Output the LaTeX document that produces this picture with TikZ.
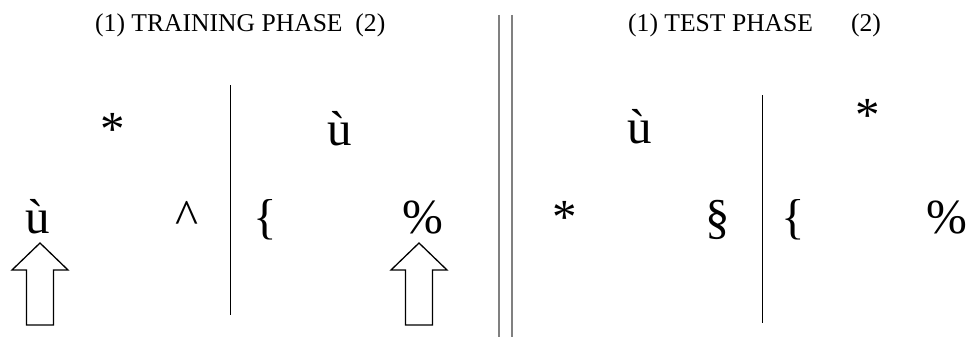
\documentclass[tikz,border=0pt]{standalone}
\usepackage{fontspec}
\setmainfont{Liberation Serif}

\begin{document}
\begin{tikzpicture}[x=1pt, y=-1pt, sym/.style = {anchor=base, inner sep=0pt, font=\fontsize{49}{49}\selectfont}, title/.style = {anchor=base west, inner sep=0pt, font=\fontsize{25.6}{25.6}\selectfont}, divider/.style = {line width=1pt}, hollowarrow/.style = {draw, line width=1.3pt, fill=white}]

    \useasboundingbox (0,0) rectangle (973,337);

    % 1. Titles of both phases
    \node[title] (trainTitle) at (95,32) {(1) TRAINING PHASE\ \ (2)};
    \node[title] (testTitle) at (628,32) {(1) TEST PHASE\hspace{38pt}(2)};

    % 2. Separating lines
    \draw[divider] (230,85) -- (230,315);
    \draw[divider] (762,95) -- (762,323);
    \draw[gray, line width=1.3pt] (499,15) -- (499,337);
    \draw[gray, line width=1.3pt] (512,15) -- (512,337);

    % 3. Training phase symbols
    \node[sym] (trainStar) at (113,145) {*};
    \node[sym] (trainUTop) at (340,145) {ù};
    \node[sym] (trainU) at (38,233) {ù};
    \node[sym] (trainCaret) at (187,233) {\textasciicircum};
    \node[sym] (trainBrace) at (265,233) {\{};
    \node[sym] (trainPct) at (423,233) {\%};

    % 4. Test phase symbols
    \node[sym] (testUTop) at (640,143) {ù};
    \node[sym] (testStarTop) at (868,131) {*};
    \node[sym] (testStar) at (565,233) {*};
    \node[sym] (testSect) at (718,233) {\S};
    \node[sym] (testBrace) at (793,233) {\{};
    \node[sym] (testPct) at (947,233) {\%};

    % 5. Hollow arrows under the chosen symbols
    \foreach \ax in {40,419}
        \draw[hollowarrow] (\ax,243) -- (\ax+28,270) -- (\ax+13.5,270) -- (\ax+13.5,325) -- (\ax-13.5,325) -- (\ax-13.5,270) -- (\ax-28,270) -- cycle;

\end{tikzpicture}
\end{document}
